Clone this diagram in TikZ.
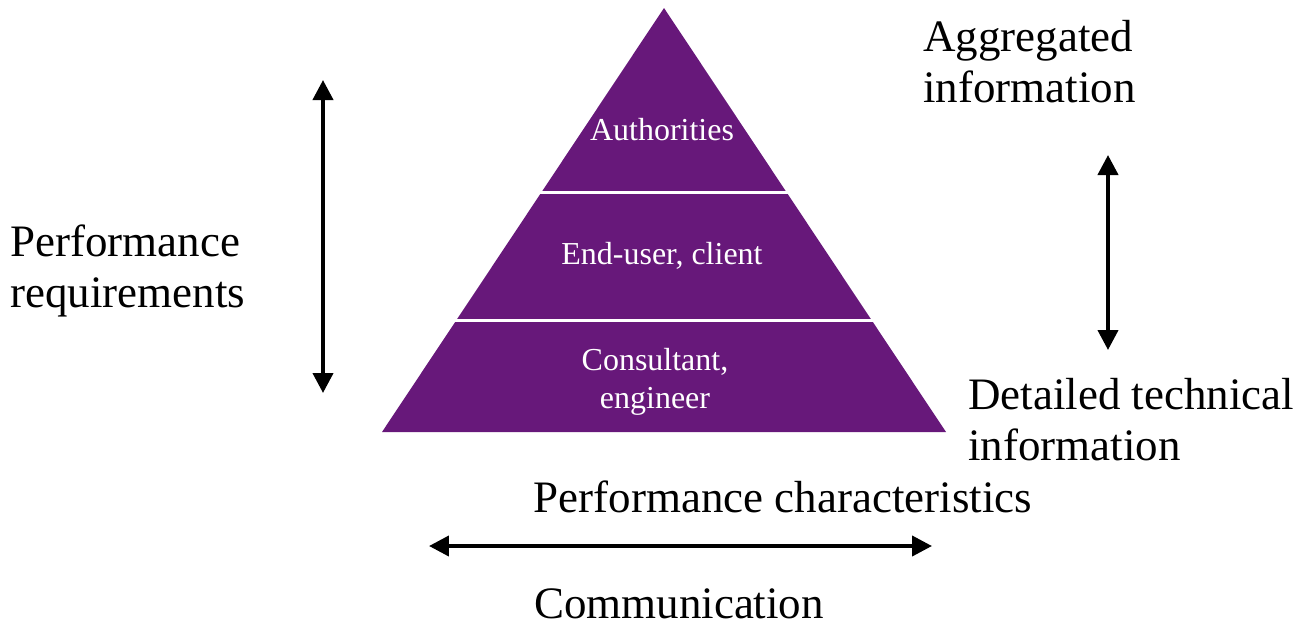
\documentclass[tikz,border=0pt]{standalone}
\usepackage{fontspec}
\setmainfont{Liberation Serif}
\usetikzlibrary{arrows.meta}
\definecolor{pyrpurple}{HTML}{67187A}
\tikzset{
 bigtext/.style={font=\fontsize{25.6}{29}\selectfont, align=left, inner sep=0},
 layertext/.style={font=\fontsize{18.2}{21.6}\selectfont, text=white, align=center, inner sep=0},
 dblarrow/.style={line width=0.08cm, {Triangle[length=0.4cm,width=0.4cm]}-{Triangle[length=0.4cm,width=0.4cm]}},
}

\begin{document}
\begin{tikzpicture}[x=0.02cm,y=-0.02cm]
\useasboundingbox (0,0) rectangle (1299,626);
% pyramid
\coordinate (apex) at (664,8);
\coordinate (bl) at (382,432);
\coordinate (br) at (946,432);
\fill[pyrpurple] (apex) -- (br) -- (bl) -- cycle;
\foreach \y in {192,320} {
 \draw[white, line width=0.06cm] ({664-0.665*(\y-8)-3},\y) -- ({664+0.665*(\y-8)+3},\y);
}
\node[layertext] (auth) at (662,130) {Authorities};
\node[layertext] (enduser) at (662,256) {End-user, client};
\node[layertext] (consult) at (655,382) {Consultant,\\engineer};

% labels
\node[bigtext, anchor=west] (req) at (10,271) {Performance\\requirements};
\node[bigtext, anchor=west] (aggr) at (923,62) {Aggregated\\information};
\node[bigtext, anchor=west] (detail) at (968,420) {Detailed technical\\information};
\node[bigtext, anchor=base] (charac) at (783,512) {Performance characteristics};
\node[bigtext, anchor=base] (comm) at (679,618) {Communication};

% arrows
\coordinate (reqtop) at (323,80);
\coordinate (reqbot) at (323,393);
\draw[dblarrow] (reqtop) -- (reqbot);
\coordinate (infotop) at (1108,155);
\coordinate (infobot) at (1108,350);
\draw[dblarrow] (infotop) -- (infobot);
\coordinate (commleft) at (429,546);
\coordinate (commright) at (932,546);
\draw[dblarrow] (commleft) -- (commright);
\end{tikzpicture}
\end{document}
